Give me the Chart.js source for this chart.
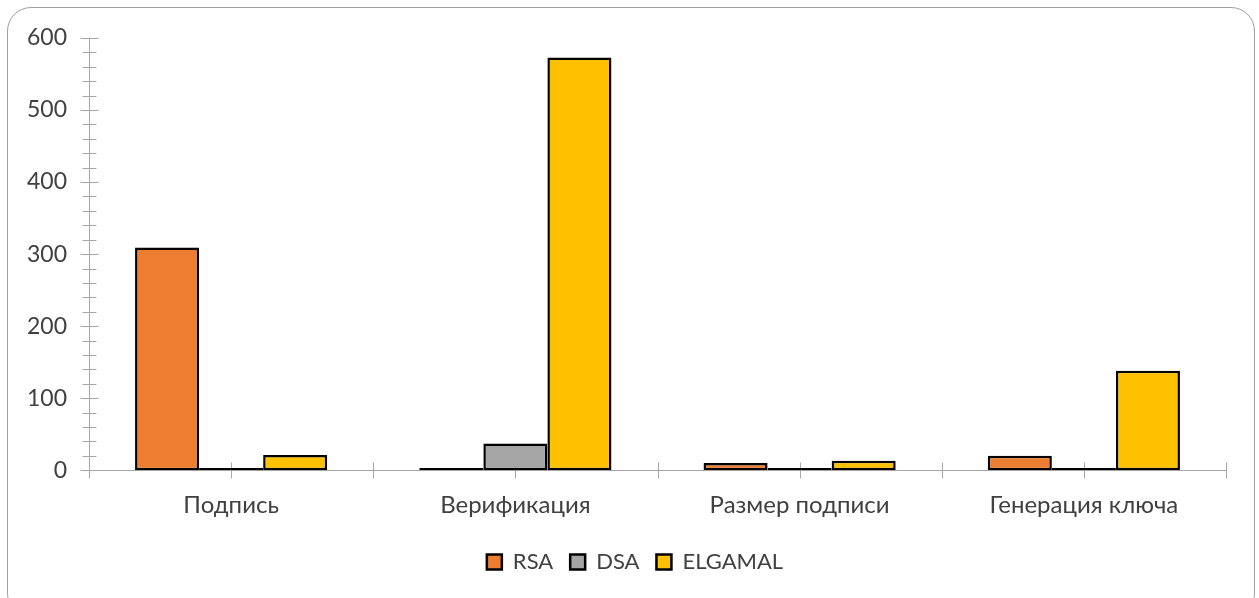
<!DOCTYPE html>
<html>
<head>
<meta charset="utf-8">
<script src="https://cdn.jsdelivr.net/npm/chart.js@4.4.1/dist/chart.umd.min.js"></script>
<style>
  html, body { margin: 0; padding: 0; background: #ffffff; overflow: hidden; }
  #wrap { position: absolute; left: 0; top: 0; width: 1259px; height: 598px; }
  #frame {
    position: absolute; left: 7px; top: 7px; width: 1248px; height: 610px;
    border: 1.5px solid #a0a0a0; border-radius: 24px; box-sizing: border-box;
  }
  #holder { position: absolute; left: 0; top: 0; width: 1259px; height: 598px; }
</style>
</head>
<body>
<div id="wrap">
  <div id="frame"></div>
  <div id="holder"><canvas id="chart"></canvas></div>
</div>
<script>
// Categories and series (milliseconds / bytes per operation)
const categories = ['Подпись', 'Верификация', 'Размер подписи', 'Генерация ключа'];
const rsaValues = [309, 3, 10, 20];
const dsaValues = [3, 37, 3, 3];
const elgamalValues = [21, 573, 13, 138];
const yTicks = [0, 100, 200, 300, 400, 500, 600];

const AXIS_COLOR = '#a6a6a6';
const TEXT_COLOR = '#404040';
const FONT = 'Lato, "Open Sans", "DejaVu Sans", sans-serif';

// Cross-shaped tick marks on both axes (major every 100, minor every 20 on y;
// category boundaries and centres on x)
const crossTicks = {
  id: 'crossTicks',
  beforeDatasetsDraw(chart) {
    const { ctx, scales: { x, y } } = chart;
    ctx.save();
    ctx.strokeStyle = AXIS_COLOR;
    ctx.lineWidth = 1;
    const x0 = Math.round(x.left) + 0.5;
    for (let v = y.min; v <= y.max; v += 20) {
      const py = Math.round(y.getPixelForValue(v)) + 0.5;
      const half = (v % 100 === 0) ? 9 : 7;
      ctx.beginPath();
      ctx.moveTo(x0 - half, py);
      ctx.lineTo(x0 + half, py);
      ctx.stroke();
    }
    const y0 = Math.round(y.getPixelForValue(0)) + 0.5;
    for (let i = -0.5; i <= categories.length - 0.5; i += 0.5) {
      const px = Math.round(x.getPixelForValue(i)) + 0.5;
      ctx.beginPath();
      ctx.moveTo(px, y0 - 8);
      ctx.lineTo(px, y0 + 8);
      ctx.stroke();
    }
    ctx.restore();
  }
};

// Centre the legend row under the whole canvas and lift it a little
const legendShift = {
  id: 'legendShift',
  afterLayout(chart) {
    const lg = chart.legend;
    if (!lg) return;
    lg.left += 22;
    lg.right += 22;
    lg.top -= 7;
    lg.bottom -= 7;
  }
};

const commonBar = {
  borderColor: '#000000',
  borderWidth: 2.5,
  borderSkipped: false,
  barPercentage: 1.0,
  categoryPercentage: 0.676
};

new Chart(document.getElementById('chart'), {
  type: 'bar',
  data: {
    labels: categories,
    datasets: [
      Object.assign({ label: 'RSA', data: rsaValues, backgroundColor: '#ED7D31' }, commonBar),
      Object.assign({ label: 'DSA', data: dsaValues, backgroundColor: '#A5A5A5' }, commonBar),
      Object.assign({ label: 'ELGAMAL', data: elgamalValues, backgroundColor: '#FFC000' }, commonBar)
    ]
  },
  options: {
    responsive: true,
    maintainAspectRatio: false,
    animation: false,
    layout: { padding: { left: 0, right: 33, top: 38, bottom: 8 } },
    scales: {
      x: {
        grid: { display: false, drawTicks: false, tickLength: 0 },
        border: { display: true, color: AXIS_COLOR, width: 1 },
        ticks: {
          color: TEXT_COLOR,
          font: { family: FONT, size: 24 },
          padding: 21,
          maxRotation: 0,
          autoSkip: false
        }
      },
      y: {
        min: 0,
        max: 600,
        afterFit(scale) { scale.width = 89; },
        afterBuildTicks(scale) { scale.ticks = yTicks.map(v => ({ value: v })); },
        grid: { display: false, drawTicks: false, tickLength: 0 },
        border: { display: true, color: AXIS_COLOR, width: 1 },
        ticks: {
          color: TEXT_COLOR,
          font: { family: FONT, size: 23 },
          padding: 22
        }
      }
    },
    plugins: {
      legend: {
        position: 'bottom',
        labels: {
          color: TEXT_COLOR,
          font: { family: FONT, size: 22 },
          boxWidth: 15,
          boxHeight: 15,
          padding: 17
        }
      },
      tooltip: { enabled: false }
    }
  },
  plugins: [crossTicks, legendShift]
});
</script>
</body>
</html>
